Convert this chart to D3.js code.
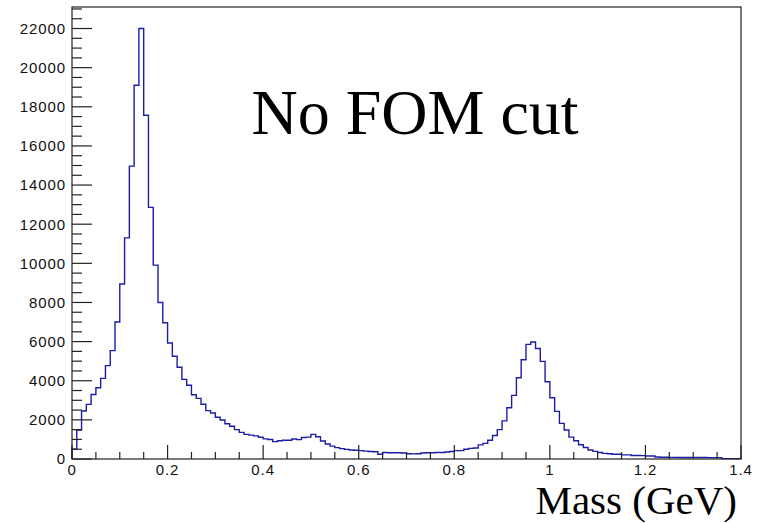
<!DOCTYPE html>
<html>
<head>
<meta charset="utf-8">
<script src="https://cdn.jsdelivr.net/npm/d3@7"></script>
<style>
  html, body { margin: 0; padding: 0; background: #fff; }
  svg { display: block; }
</style>
</head>
<body>
<svg id="chart" width="761" height="523"></svg>
<script>
// ---- data ----
const binStart = 0.0;
const binWidth = 0.01;
const counts = [
  500, 1480, 2450, 2790, 3300, 3640, 4120, 4770, 5540, 7000,
  8940, 11300, 14970, 19100, 22000, 17570, 12860, 9910, 8000, 6960,
  5930, 5250, 4690, 4070, 3770, 3280, 3100, 2800, 2470, 2350,
  2130, 1990, 1800, 1670, 1500, 1360, 1260, 1220, 1180, 1110,
  1030, 1000, 890, 930, 960, 960, 1020, 990, 1100, 1120,
  1260, 1140, 920, 770, 660, 580, 530, 490, 460, 450,
  430, 400, 380, 370, 240, 330, 320, 320, 320, 310,
  270, 260, 270, 310, 320, 320, 330, 330, 360, 380,
  430, 430, 500, 545, 560, 720, 800, 960, 1200, 1500,
  1950, 2620, 3250, 4150, 5070, 5860, 5980, 5650, 4990, 3950,
  3130, 2435, 1822, 1481, 1120, 930, 730, 590, 460, 390,
  330, 290, 270, 240, 240, 210, 210, 180, 180, 170,
  150, 150, 100, 90, 90, 85, 85, 80, 80, 80,
  75, 75, 80, 70, 70, 70, 20, 20, 20, 20
];
const xMajorTicks = [0, 0.2, 0.4, 0.6, 0.8, 1, 1.2, 1.4];
const xTickLabels = ["0", "0.2", "0.4", "0.6", "0.8", "1", "1.2", "1.4"];
const yMajorTicks = [0, 2000, 4000, 6000, 8000, 10000, 12000, 14000, 16000, 18000, 20000, 22000];
const yTickLabels = ["0", "2000", "4000", "6000", "8000", "10000", "12000", "14000", "16000", "18000", "20000", "22000"];
const xDomain = [0, 1.4];
const yDomain = [0, 23100];
const titleText = "No FOM cut";
const xTitle = "Mass (GeV)";

// ---- layout ----
const L = 72, R = 741, T = 7, B = 459;
const svg = d3.select("#chart");
const x = d3.scaleLinear().domain(xDomain).range([L, R]);
const y = d3.scaleLinear().domain(yDomain).range([B, T]);

// histogram path
const pts = [];
pts.push([x(binStart), y(0)]);
counts.forEach((c, i) => {
  const x0 = binStart + i * binWidth, x1 = x0 + binWidth;
  pts.push([x(x0), y(c)]);
  pts.push([x(x1), y(c)]);
});
pts.push([x(binStart + counts.length * binWidth), y(0)]);
svg.append("path")
  .attr("d", d3.line()(pts))
  .attr("fill", "none")
  .attr("stroke", "#1c1ca8")
  .attr("stroke-width", 1.4)
  .attr("stroke-linejoin", "miter");

// frame
svg.append("rect")
  .attr("x", L).attr("y", T)
  .attr("width", R - L).attr("height", B - T)
  .attr("fill", "none").attr("stroke", "#222").attr("stroke-width", 1.2);

// y-axis ticks (minor every 500)
const yMinor = d3.range(0, 23001, 500);
svg.append("g").selectAll("line").data(yMinor).join("line")
  .attr("x1", L).attr("x2", d => L + (d % 2000 === 0 ? 20 : 10))
  .attr("y1", d => y(d)).attr("y2", d => y(d))
  .attr("stroke", "#222").attr("stroke-width", 1.2);
svg.append("g").selectAll("text").data(yMajorTicks).join("text")
  .attr("x", 66).attr("y", d => y(d))
  .attr("dy", "0.36em")
  .attr("text-anchor", "end")
  .attr("font-family", "Liberation Sans, Arial, sans-serif")
  .attr("font-size", 15)
  .attr("letter-spacing", 0.9)
  .attr("fill", "#111")
  .text((d, i) => yTickLabels[i]);

// x-axis ticks (minor every 0.05)
const xMinor = d3.range(0, 29).map(i => i * 0.05);
svg.append("g").selectAll("line").data(xMinor).join("line")
  .attr("x1", d => x(d)).attr("x2", d => x(d))
  .attr("y1", B).attr("y2", (d, i) => B - (i % 4 === 0 ? 14 : 7))
  .attr("stroke", "#222").attr("stroke-width", 1.2);
svg.append("g").selectAll("text").data(xMajorTicks).join("text")
  .attr("x", d => x(d)).attr("y", 475)
  .attr("text-anchor", "middle")
  .attr("font-family", "Liberation Sans, Arial, sans-serif")
  .attr("font-size", 15)
  .attr("letter-spacing", 0.9)
  .attr("fill", "#111")
  .text((d, i) => xTickLabels[i]);

// titles
svg.append("text")
  .attr("x", 415).attr("y", 134)
  .attr("text-anchor", "middle")
  .attr("font-family", "Liberation Serif, Times New Roman, serif")
  .attr("font-size", 64)
  .attr("fill", "#000")
  .text(titleText);
svg.append("text")
  .attr("x", 737).attr("y", 514)
  .attr("text-anchor", "end")
  .attr("font-family", "Liberation Serif, Times New Roman, serif")
  .attr("font-size", 41)
  .attr("fill", "#000")
  .text(xTitle);
</script>
</body>
</html>
